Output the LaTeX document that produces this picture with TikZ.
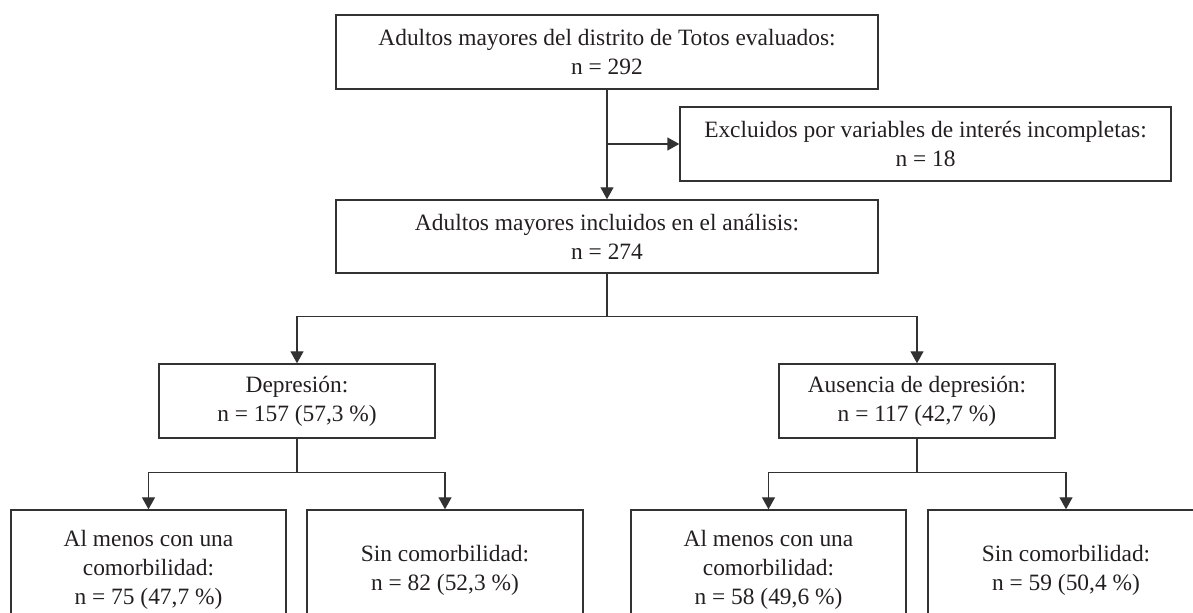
\documentclass[tikz,border=0pt]{standalone}
\usepackage{fontspec}
\setmainfont{Liberation Serif}
\usepackage{xcolor}
\definecolor{ColLine}{RGB}{50,50,50}
\definecolor{ColText}{RGB}{35,31,32}
\usepackage{tikz}
\usetikzlibrary{arrows.meta}
\tikzstyle{Box}=[draw=ColLine,line width=0.7pt,align=center,text=ColText,
font=\fontsize{11.7}{14.5}\selectfont,inner sep=0pt]
\tikzstyle{Edge}=[draw=ColLine,line width=0.7pt]
\tikzstyle{Arrow}=[Edge,-{Triangle[width=6.5pt,length=6pt]}]

\begin{document}
\begin{tikzpicture}[x=0.5pt,y=0.5pt]
        \clip(0,0)rectangle(1193,-613);
        \node[Box,minimum width=271pt,minimum height=37pt](tot)at(607.0,-52.0)
            {Adultos mayores del distrito de Totos evaluados:\\n = 292};
        \node[Box,minimum width=245.5pt,minimum height=37pt](exc)at(925.5,-144.0)
            {Excluidos por variables de interés incompletas:\\n = 18};
        \node[Box,minimum width=271pt,minimum height=36.5pt](inc)at(607.0,-236.5)
            {Adultos mayores incluidos en el análisis:\\n = 274};
        \node[Box,minimum width=138pt,minimum height=37pt](dep)at(297.0,-401.0)
            {Depresión:\\n = 157 (57,3 \%)};
        \node[Box,minimum width=138pt,minimum height=37pt](nod)at(917.0,-401.0)
            {Ausencia de depresión:\\n = 117 (42,7 \%)};
        \node[Box,minimum width=137.5pt,minimum height=60pt](depc)at(148.5,-570.0)
            {Al menos con una\\comorbilidad:\\n = 75 (47,7 \%)};
        \node[Box,minimum width=138pt,minimum height=60pt](deps)at(445.0,-570.0)
            {Sin comorbilidad:\\n = 82 (52,3 \%)};
        \node[Box,minimum width=137.5pt,minimum height=60pt](nodc)at(768.5,-570.0)
            {Al menos con una\\comorbilidad:\\n = 58 (49,6 \%)};
        \node[Box,minimum width=138pt,minimum height=60pt](nods)at(1066.0,-570.0)
            {Sin comorbilidad:\\n = 59 (50,4 \%)};
        \draw[Arrow](tot)--(inc);
        \draw[Arrow](tot.south|-exc.west)--(exc.west);
        \draw[Arrow](inc.south)--++(0,-43)-|(dep.north);
        \draw[Arrow](inc.south)--++(0,-43)-|(nod.north);
        \draw[Arrow](dep.south)--++(0,-34)-|(depc.north);
        \draw[Arrow](dep.south)--++(0,-34)-|(deps.north);
        \draw[Arrow](nod.south)--++(0,-34)-|(nodc.north);
        \draw[Arrow](nod.south)--++(0,-34)-|(nods.north);
    \end{tikzpicture}
\end{document}
